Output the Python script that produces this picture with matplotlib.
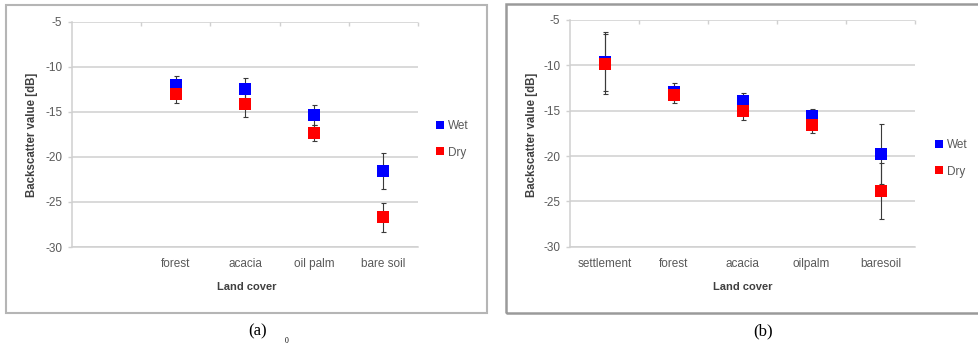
import numpy as np
import matplotlib
matplotlib.use("Agg")
import matplotlib.pyplot as plt
from matplotlib.patches import Rectangle
from matplotlib.lines import Line2D

plt.rcParams['font.family'] = ['Liberation Sans', 'DejaVu Sans']
plt.rcParams['axes.unicode_minus'] = False

# ---------------- data ----------------
a_categories = ['', 'forest', 'acacia', 'oil palm', 'bare soil']
a_wet = [np.nan, -12.0, -12.4, -15.3, -21.6]
a_wet_err = [np.nan, 1.0, 1.2, 1.1, 2.0]
a_dry = [np.nan, -13.0, -14.1, -17.3, -26.7]
a_dry_err = [np.nan, 1.0, 1.5, 0.9, 1.6]

b_categories = ['settlement', 'forest', 'acacia', 'oilpalm', 'baresoil']
b_wet = [-9.6, -12.9, -13.9, -15.55, -19.8]
b_wet_err = [3.25, 0.9, 0.9, 0.7, 3.3]
b_dry = [-9.85, -13.3, -15.0, -16.6, -23.85]
b_dry_err = [3.3, 0.9, 1.0, 0.9, 3.1]

y_ticks = [-5, -10, -15, -20, -25, -30]
series_names = ['Wet', 'Dry']
series_colors = ['#0000FF', '#FF0000']
captions = ['(a)', '(b)']

W, H = 979, 346
fig = plt.figure(figsize=(W / 100, H / 100), dpi=100)

def px_axes(left, top, right, bottom):
    return fig.add_axes([left / W, 1 - bottom / H, (right - left) / W, (bottom - top) / H])

def frame(left, top, right, bottom, color, lw):
    fig.patches.append(Rectangle((left / W, 1 - bottom / H), (right - left) / W, (bottom - top) / H,
                                 transform=fig.transFigure, fill=False, edgecolor=color, lw=lw))

grid_c = '#d0d0d0'
tick_c = '#595959'
lab_c = '#404040'
err_c = '#3a3a3a'

def draw_panel(ax, cats, wet, wet_err, dry, dry_err):
    x = np.arange(len(cats))
    for vals, errs, col in [(wet, wet_err, series_colors[0]), (dry, dry_err, series_colors[1])]:
        ax.errorbar(x, vals, yerr=errs, fmt='none', ecolor=err_c, elinewidth=0.8,
                    capsize=1.8, capthick=0.8, zorder=3)
    for vals, col, name in [(wet, series_colors[0], series_names[0]), (dry, series_colors[1], series_names[1])]:
        ax.plot(x, vals, linestyle='none', marker='s', markersize=8.2, color=col,
                markeredgewidth=0, zorder=4, label=name)
    ax.set_xlim(-0.5, len(cats) - 0.5)
    ax.set_ylim(-30, -5)
    ax.set_yticks(y_ticks)
    ax.set_yticklabels([str(v) for v in y_ticks])
    ax.yaxis.grid(True, color=grid_c, lw=1.1, zorder=0)
    ax.set_axisbelow(True)
    for s in ['top', 'right']:
        ax.spines[s].set_visible(False)
    for s in ['left', 'bottom']:
        ax.spines[s].set_color(grid_c)
        ax.spines[s].set_linewidth(1.1)
    ax.set_xticks(x)
    ax.set_xticklabels(cats, fontsize=8.5, color=tick_c)
    ax.tick_params(axis='x', which='major', length=0, pad=8)
    ax.set_xticks(x + 0.5, minor=True)
    ax.tick_params(axis='x', which='minor', bottom=False, top=True, direction='in',
                   length=3, color=grid_c, width=1.0)
    ax.tick_params(axis='y', length=3, color=grid_c, width=1.0, labelsize=8.5,
                   labelcolor=tick_c, pad=4)

# panel (a)
frame(6, 5, 487, 313, '#b5b5b5', 1.5)
ax1 = px_axes(72, 22, 418, 247)
draw_panel(ax1, a_categories, a_wet, a_wet_err, a_dry, a_dry_err)

# panel (b)
frame(506, 4, 985, 313, '#9a9a9a', 1.8)
ax2 = px_axes(570, 20, 915, 246.7)
draw_panel(ax2, b_categories, b_wet, b_wet_err, b_dry, b_dry_err)

for ax, xl, yl_x, leg_x, leg_y in [(ax1, 247, 32, 436, 139.5), (ax2, 743, 532, 935, 158.5)]:
    fig.text(xl / W, 1 - 287 / H, 'Land cover', ha='center', va='center',
             fontsize=8, fontweight='bold', color=lab_c)
    fig.text(yl_x / W, 1 - 135 / H, 'Backscatter value [dB]', ha='center', va='center',
             rotation=90, fontsize=8.3, fontweight='bold', color=lab_c)
    handles = [Line2D([], [], linestyle='none', marker='s', markersize=5.8, color=c,
                      markeredgewidth=0) for c in series_colors]
    fig.legend(handles, series_names, loc='center left',
               bbox_to_anchor=(leg_x / W, 1 - leg_y / H), frameon=False,
               fontsize=8.5, labelcolor=tick_c, handlelength=0.75, handletextpad=0.3,
               labelspacing=1.2, borderpad=0, borderaxespad=0)

fig.text(258 / W, 1 - 331 / H, captions[0], ha='center', va='center', fontsize=12,
         family='Liberation Serif', color='black')
fig.text(763 / W, 1 - 331 / H, captions[1], ha='center', va='center', fontsize=12,
         family='Liberation Serif', color='black')
fig.text(287 / W, 1 - 341 / H, '0', ha='center', va='center', fontsize=5.5,
         family='Liberation Serif', color='black')

fig.savefig('out.png', dpi=100)
